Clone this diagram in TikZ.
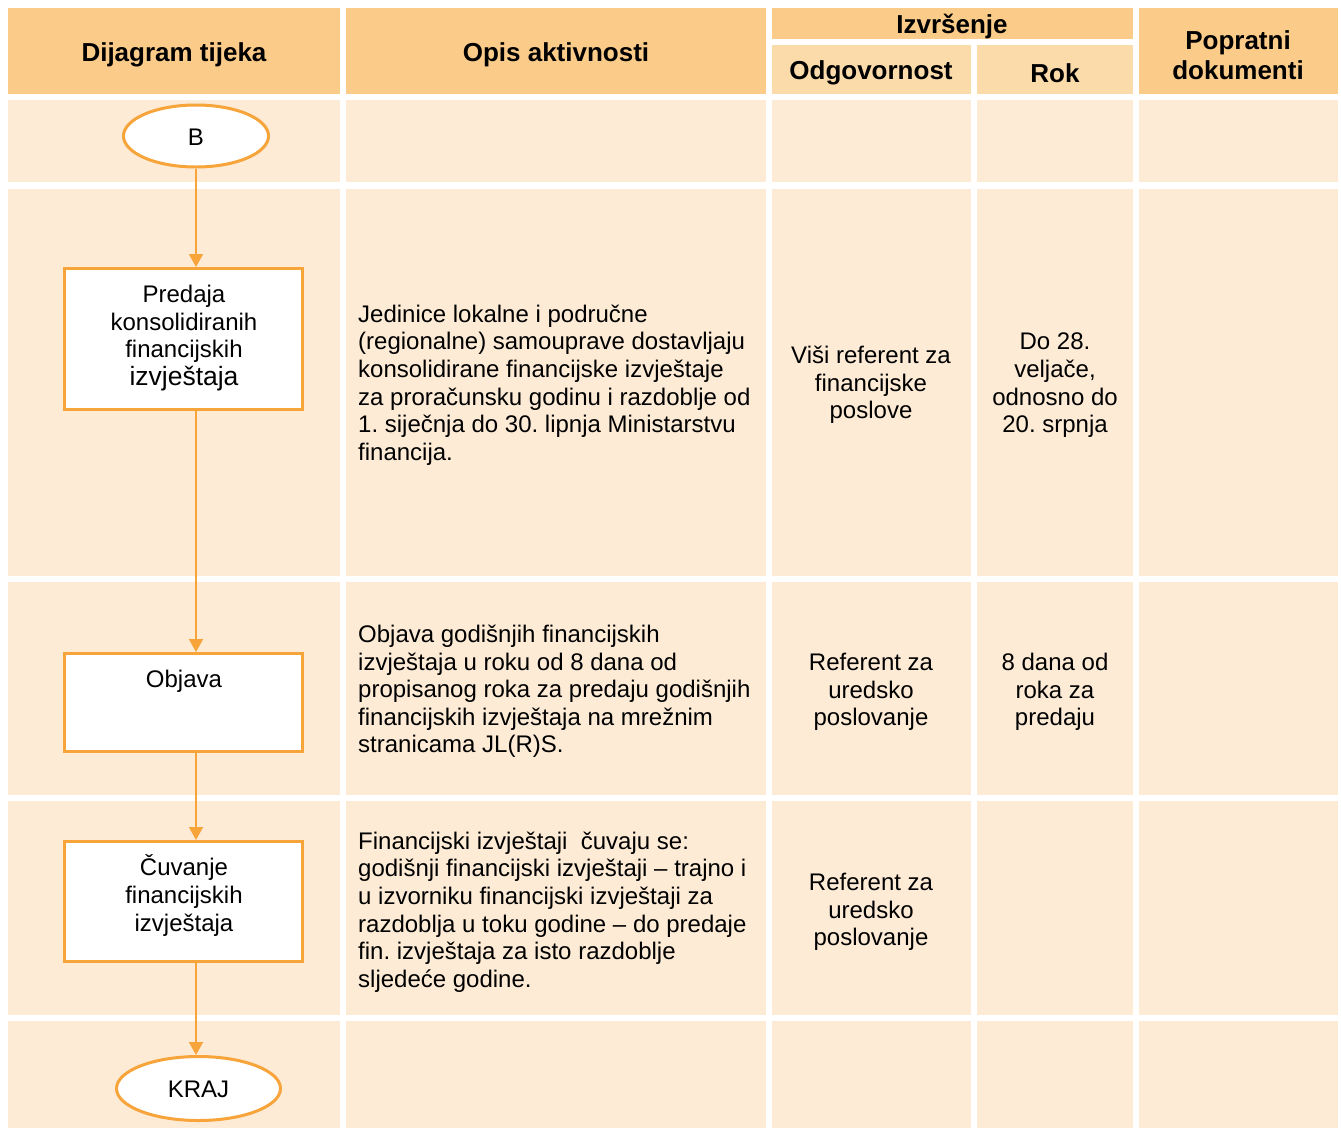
\documentclass[tikz,border=0pt]{standalone}
\usepackage{fontspec}
\setmainfont{Liberation Sans}
\usetikzlibrary{arrows.meta,shapes.geometric}
\definecolor{hdr}{HTML}{FBCB89}
\definecolor{subh}{HTML}{FCDBAA}
\definecolor{bodyc}{HTML}{FDEBD6}
\definecolor{org}{HTML}{F7A43B}
\frenchspacing
\tikzset{
  flowbox/.style={draw=org, line width=3pt, fill=white, rectangle, inner sep=0pt, minimum width=238pt},
  term/.style={draw=org, line width=3pt, fill=white, ellipse, inner sep=0pt},
  conn/.style={draw=org, line width=2pt, -{Triangle[length=13pt,width=14pt]}},
  txt/.style={font=\fontsize{24}{27.6}\selectfont\frenchspacing, inner sep=0pt},
  hd/.style={font=\fontsize{26}{30}\selectfont\bfseries, inner sep=0pt, align=center},
}
\begin{document}
\begin{tikzpicture}[x=1pt,y=-1pt]
\useasboundingbox (0,0) rectangle (1341,1128);
% header cells
\fill[hdr] (8,8) rectangle (340,94);
\fill[hdr] (346,8) rectangle (766,94);
\fill[hdr] (772,8) rectangle (1133,39);
\fill[subh] (772,45) rectangle (971,94);
\fill[subh] (977,45) rectangle (1133,94);
\fill[hdr] (1139,8) rectangle (1338,94);
% body cells
\foreach \ya/\yb in {100/182,189/576,582/795,801/1015,1021/1128}{
  \foreach \xa/\xb in {8/340,346/766,772/971,977/1133,1139/1338}{
    \fill[bodyc] (\xa,\ya) rectangle (\xb,\yb);
  }
}
% header texts
\node[hd] (h1) at (174,55) {Dijagram tijeka};
\node[hd] (h2) at (556,55) {Opis aktivnosti};
\node[hd] (h3) at (952,26) {Izvršenje};
\node[hd] (h4) at (871,73) {Odgovornost};
\node[hd] (h5) at (1055,73) {Rok};
\node[hd] (h6) at (1238,55) {Popratni\\dokumenti};
% flow shapes
\node[term, minimum width=145pt, minimum height=62pt] (B) at (196,136) {};
\node[txt] (Bt) at (196,137) {B};
\node[flowbox, minimum height=141pt] (p1) at (183.5,339) {};
\node[txt, align=center] (p1t) at (184,338) {Predaja\\konsolidiranih\\financijskih\\{\fontsize{26.5}{28}\selectfont izvještaja}};
\node[flowbox, minimum height=98pt] (p2) at (183.5,702.5) {};
\node[txt] (p2t) at (184,681) {Objava};
\node[flowbox, minimum height=120pt] (p3) at (183.5,901.5) {};
\node[txt, align=center] (p3t) at (184,895.5) {Čuvanje\\financijskih\\izvještaja};
\node[term, minimum width=164pt, minimum height=64pt] (K) at (198.5,1088.5) {};
\node[txt] (Kt) at (198.5,1089) {KRAJ};
% connectors
\draw[conn] (B.south) -- (B.south |- p1.north);
\draw[conn] (p1.south -| B.south) -- (p2.north -| B.south);
\draw[conn] (p2.south -| B.south) -- (p3.north -| B.south);
\draw[conn] (p3.south -| B.south) -- (K.north -| B.south);
% description texts
\node[txt, align=left, anchor=west] (d1) at (358,385) {Jedinice lokalne i područne\\(regionalne) samouprave dostavljaju\\konsolidirane financijske izvještaje\\za proračunsku godinu i razdoblje od\\1. siječnja do 30. lipnja Ministarstvu\\financija.};
\node[txt, align=left, anchor=west] (d2) at (358,691.5) {Objava godišnjih financijskih\\izvještaja u roku od 8 dana od\\propisanog roka za predaju godišnjih\\financijskih izvještaja na mrežnim\\stranicama JL(R)S.};
\node[txt, align=left, anchor=west] (d3) at (358,912) {Financijski izvještaji\ \ čuvaju se:\\godišnji financijski izvještaji -- trajno i\\u izvorniku financijski izvještaji za\\razdoblja u toku godine -- do predaje\\fin. izvještaja za isto razdoblje\\sljedeće godine.};
% responsibility
\node[txt, align=center] (o1) at (871,385) {Viši referent za\\financijske\\poslove};
\node[txt, align=center] (o2) at (871,692) {Referent za\\uredsko\\poslovanje};
\node[txt, align=center] (o3) at (871,912) {Referent za\\uredsko\\poslovanje};
% deadlines
\node[txt, align=center] (r1) at (1055,385.5) {Do 28.\\veljače,\\odnosno do\\20. srpnja};
\node[txt, align=center] (r2) at (1055,692) {8 dana od\\roka za\\predaju};
\end{tikzpicture}
\end{document}
